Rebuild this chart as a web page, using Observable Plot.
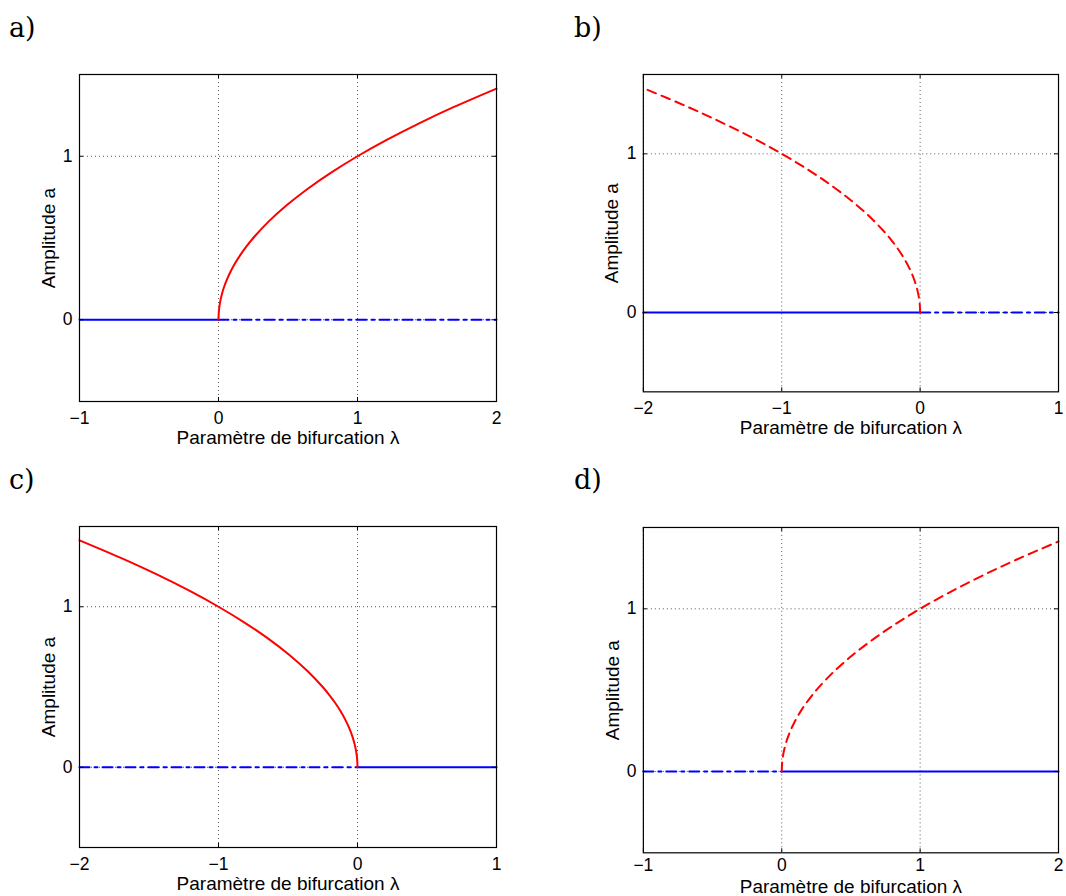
<!DOCTYPE html>
<html>
<head>
<meta charset="utf-8">
<script src="https://cdn.jsdelivr.net/npm/d3@7"></script>
<script src="https://cdn.jsdelivr.net/npm/@observablehq/plot@0.6"></script>
<style>
  html, body { margin: 0; padding: 0; background: #fff; }
  #root { position: relative; width: 1066px; height: 896px; overflow: hidden; background: #fff; }
  .panel-tag { position: absolute; font-family: "DejaVu Serif", serif; font-size: 27px; line-height: 1; color: #000; }
  .plot-box { position: absolute; }
</style>
</head>
<body>
<div id="root"></div>
<script>
// ---- data ----
const panelTags = ["a)", "b)", "c)", "d)"];
const xLabel = "Paramètre de bifurcation λ";
const yLabel = "Amplitude a";
const xTicksRight = [-1, 0, 1, 2];   // panels a, d
const xTicksLeft = [-2, -1, 0, 1];   // panels b, c
const yTicks = [0, 1];
const yDomain = [-0.5, 1.5];

// non-trivial branch: amplitude vs. |lambda|
const branchAmp = [0, 0.05, 0.1, 0.15, 0.2, 0.25, 0.3, 0.35, 0.4, 0.45, 0.5, 0.6, 0.7, 0.8, 0.9, 1.0, 1.1, 1.2, 1.3, 1.414];
const branchLambdaPos = [0, 0.0025, 0.01, 0.0225, 0.04, 0.0625, 0.09, 0.1225, 0.16, 0.2025, 0.25, 0.36, 0.49, 0.64, 0.81, 1.0, 1.21, 1.44, 1.69, 2.0];
const branchLambdaNeg = [0, -0.0025, -0.01, -0.0225, -0.04, -0.0625, -0.09, -0.1225, -0.16, -0.2025, -0.25, -0.36, -0.49, -0.64, -0.81, -1.0, -1.21, -1.44, -1.69, -2.0];

// trivial branch a = 0 : [start, end] of lambda
const trivialAmp = [0, 0];
const trivialA_stable = [-1, 0], trivialA_unstable = [0, 2];
const trivialB_stable = [-2, 0], trivialB_unstable = [0, 1];
const trivialC_unstable = [-2, 0], trivialC_stable = [0, 1];
const trivialD_unstable = [-1, 0], trivialD_stable = [0, 2];

// ---- layout ----
const panels = [
  {tag: panelTags[0], tagX: 9, tagY: 14, fx0: 79, fx1: 496, fy0: 74, fy1: 401, tickPad: 10, xLabelDy: 36, xDomain: [-1, 2], xTicks: xTicksRight,
   branchX: branchLambdaPos, branchDash: null,
   stable: trivialA_stable, unstable: trivialA_unstable},
  {tag: panelTags[1], tagX: 574, tagY: 14, fx0: 643, fx1: 1059, fy0: 74, fy1: 392, tickPad: 10, xLabelDy: 36, xDomain: [-2, 1], xTicks: xTicksLeft,
   branchX: branchLambdaNeg, branchDash: "9,6",
   stable: trivialB_stable, unstable: trivialB_unstable},
  {tag: panelTags[2], tagX: 9, tagY: 466, fx0: 79, fx1: 496, fy0: 526, fy1: 847, tickPad: 10, xLabelDy: 36, xDomain: [-2, 1], xTicks: xTicksLeft,
   branchX: branchLambdaNeg, branchDash: null,
   stable: trivialC_stable, unstable: trivialC_unstable},
  {tag: panelTags[3], tagX: 574, tagY: 466, fx0: 643, fx1: 1059, fy0: 527, fy1: 853, tickPad: 6, xLabelDy: 34, xDomain: [-1, 2], xTicks: xTicksRight,
   branchX: branchLambdaPos, branchDash: "9,6",
   stable: trivialD_stable, unstable: trivialD_unstable}
];

const root = document.getElementById("root");
const mL = 70, mR = 8, mT = 8, mB = 52;
const tickLen = 4;
const font = "'Liberation Sans', Arial, Helvetica, sans-serif";
const fmt = d3.format("d");

for (const p of panels) {
  const fw = p.fx1 - p.fx0, fh = p.fy1 - p.fy0;
  const branch = branchAmp.map((a, i) => ({lam: p.branchX[i], amp: a}));
  const stableSeg = p.stable.map((l, i) => ({lam: l, amp: trivialAmp[i]}));
  const unstableSeg = p.unstable.map((l, i) => ({lam: l, amp: trivialAmp[i]}));

  const chart = Plot.plot({
    width: fw + mL + mR,
    height: fh + mT + mB,
    marginLeft: mL, marginRight: mR, marginTop: mT, marginBottom: mB,
    style: {fontFamily: font, fontSize: "17px", color: "#000", background: "transparent", overflow: "visible"},
    x: {domain: p.xDomain},
    y: {domain: yDomain},
    marks: [
      Plot.gridX(p.xTicks, {stroke: "#555", strokeOpacity: 1, strokeDasharray: "1,3", strokeWidth: 1}),
      Plot.gridY(yTicks, {stroke: "#555", strokeOpacity: 1, strokeDasharray: "1,3", strokeWidth: 1}),
      Plot.line(stableSeg, {x: "lam", y: "amp", stroke: "#0000ff", strokeWidth: 2}),
      Plot.line(unstableSeg, {x: "lam", y: "amp", stroke: "#0000ff", strokeWidth: 2, strokeDasharray: "10,5,3,5"}),
      Plot.line(branch, {x: "lam", y: "amp", stroke: "#ff0000", strokeWidth: 2, curve: "catmull-rom",
        strokeDasharray: p.branchDash ?? undefined}),
      // inward MATLAB-style ticks on all four sides
      Plot.tickX(p.xTicks, {x: d => d, stroke: "#000", insetTop: fh - tickLen}),
      Plot.tickX(p.xTicks, {x: d => d, stroke: "#000", insetBottom: fh - tickLen}),
      Plot.tickY(yTicks, {y: d => d, stroke: "#000", insetRight: fw - tickLen}),
      Plot.tickY(yTicks, {y: d => d, stroke: "#000", insetLeft: fw - tickLen}),
      Plot.frame({stroke: "#000", strokeWidth: 1.2}),
      Plot.axisX({ticks: p.xTicks, tickSize: 0, tickPadding: p.tickPad, label: null, fontSize: 17.5, tickFormat: fmt}),
      Plot.axisY({ticks: yTicks, tickSize: 0, tickPadding: 7, label: null, fontSize: 17.5, tickFormat: fmt}),
      Plot.text([xLabel], {frameAnchor: "bottom", dy: p.xLabelDy, fontSize: 19, fill: "#000", textAnchor: "middle", lineAnchor: "middle"}),
      Plot.text([yLabel], {frameAnchor: "left", dx: -31, rotate: -90, fontSize: 19, fill: "#000", textAnchor: "middle", lineAnchor: "middle"})
    ]
  });
  const box = document.createElement("div");
  box.className = "plot-box";
  box.style.left = (p.fx0 - mL) + "px";
  box.style.top = (p.fy0 - mT) + "px";
  box.appendChild(chart);
  root.appendChild(box);

  const tag = document.createElement("div");
  tag.className = "panel-tag";
  tag.style.left = p.tagX + "px";
  tag.style.top = p.tagY + "px";
  tag.textContent = p.tag;
  root.appendChild(tag);
}
</script>
</body>
</html>
